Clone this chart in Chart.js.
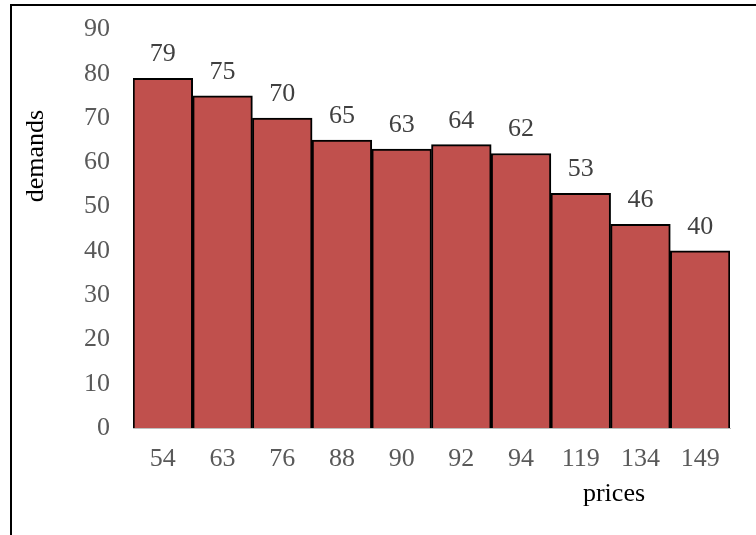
<!DOCTYPE html>
<html>
<head>
<meta charset="utf-8">
<script src="https://cdn.jsdelivr.net/npm/chart.js@4"></script>
<style>
  html, body { margin: 0; padding: 0; background: #ffffff; }
  #wrap { position: relative; width: 756px; height: 535px; }
</style>
</head>
<body>
<div id="wrap"><canvas id="demandChart" width="756" height="535"></canvas></div>
<script>
// data
const prices = ['54', '63', '76', '88', '90', '92', '94', '119', '134', '149'];
const demands = [79, 75, 70, 65, 63, 64, 62, 53, 46, 40];
const yTicks = [0, 10, 20, 30, 40, 50, 60, 70, 80, 90];

const FONT = '"Liberation Serif", "Times New Roman", serif';
const tickColor = '#595959';

// value labels over bars, axis titles and the outer frame
const extrasPlugin = {
    id: 'extras',
    afterDatasetsDraw(chart) {
        const ctx = chart.ctx;
        const meta = chart.getDatasetMeta(0);
        ctx.save();
        ctx.font = '26px ' + FONT;
        ctx.fillStyle = '#404040';
        ctx.textAlign = 'center';
        ctx.textBaseline = 'alphabetic';
        meta.data.forEach((bar, i) => {
            ctx.fillText(String(demands[i]), bar.x, bar.y - 17);
        });
        ctx.restore();
    },
    afterDraw(chart) {
        const ctx = chart.ctx;
        const area = chart.chartArea;
        ctx.save();
        ctx.fillStyle = '#000000';
        ctx.font = '26px ' + FONT;
        // x title
        ctx.textAlign = 'center';
        ctx.textBaseline = 'alphabetic';
        ctx.fillText('prices', area.right - 116, 501);
        // y title
        ctx.translate(43, 156);
        ctx.rotate(-Math.PI / 2);
        ctx.fillText('demands', 0, 0);
        ctx.restore();

        // frame (left + top edges visible)
        ctx.save();
        ctx.strokeStyle = '#000000';
        ctx.lineWidth = 2;
        ctx.beginPath();
        ctx.moveTo(11, chart.height);
        ctx.lineTo(11, 5);
        ctx.lineTo(chart.width, 5);
        ctx.stroke();
        ctx.restore();
    }
};

const ctx = document.getElementById('demandChart').getContext('2d');
new Chart(ctx, {
    type: 'bar',
    data: {
        labels: prices,
        datasets: [{
            label: 'demands',
            data: demands,
            backgroundColor: '#C0504D',
            borderColor: '#000000',
            borderWidth: 2,
            barPercentage: 1,
            categoryPercentage: 1
        }]
    },
    options: {
        responsive: false,
        animation: false,
        devicePixelRatio: 1,
        layout: { padding: { left: 0, right: 26, top: 29.5, bottom: 0 } },
        plugins: {
            legend: { display: false },
            tooltip: { enabled: false }
        },
        scales: {
            x: {
                grid: { display: false, drawTicks: false },
                border: { display: true, color: '#BFBFBF', width: 1 },
                ticks: {
                    color: tickColor,
                    font: { family: FONT, size: 26 },
                    padding: 16,
                    maxRotation: 0,
                    autoSkip: false
                },
                afterFit(scale) { scale.height = 107; }
            },
            y: {
                min: 0,
                max: 90,
                grid: { display: false, drawTicks: false },
                border: { display: false },
                afterBuildTicks(scale) { scale.ticks = yTicks.map(v => ({ value: v })); },
                ticks: {
                    color: tickColor,
                    font: { family: FONT, size: 26 },
                    padding: 23
                },
                afterFit(scale) {
                    scale.width = 133;
                    // tick padding otherwise pushes the plot down
                    scale.paddingTop = 0;
                    scale.paddingBottom = 0;
                }
            }
        }
    },
    plugins: [extrasPlugin]
});
</script>
</body>
</html>
